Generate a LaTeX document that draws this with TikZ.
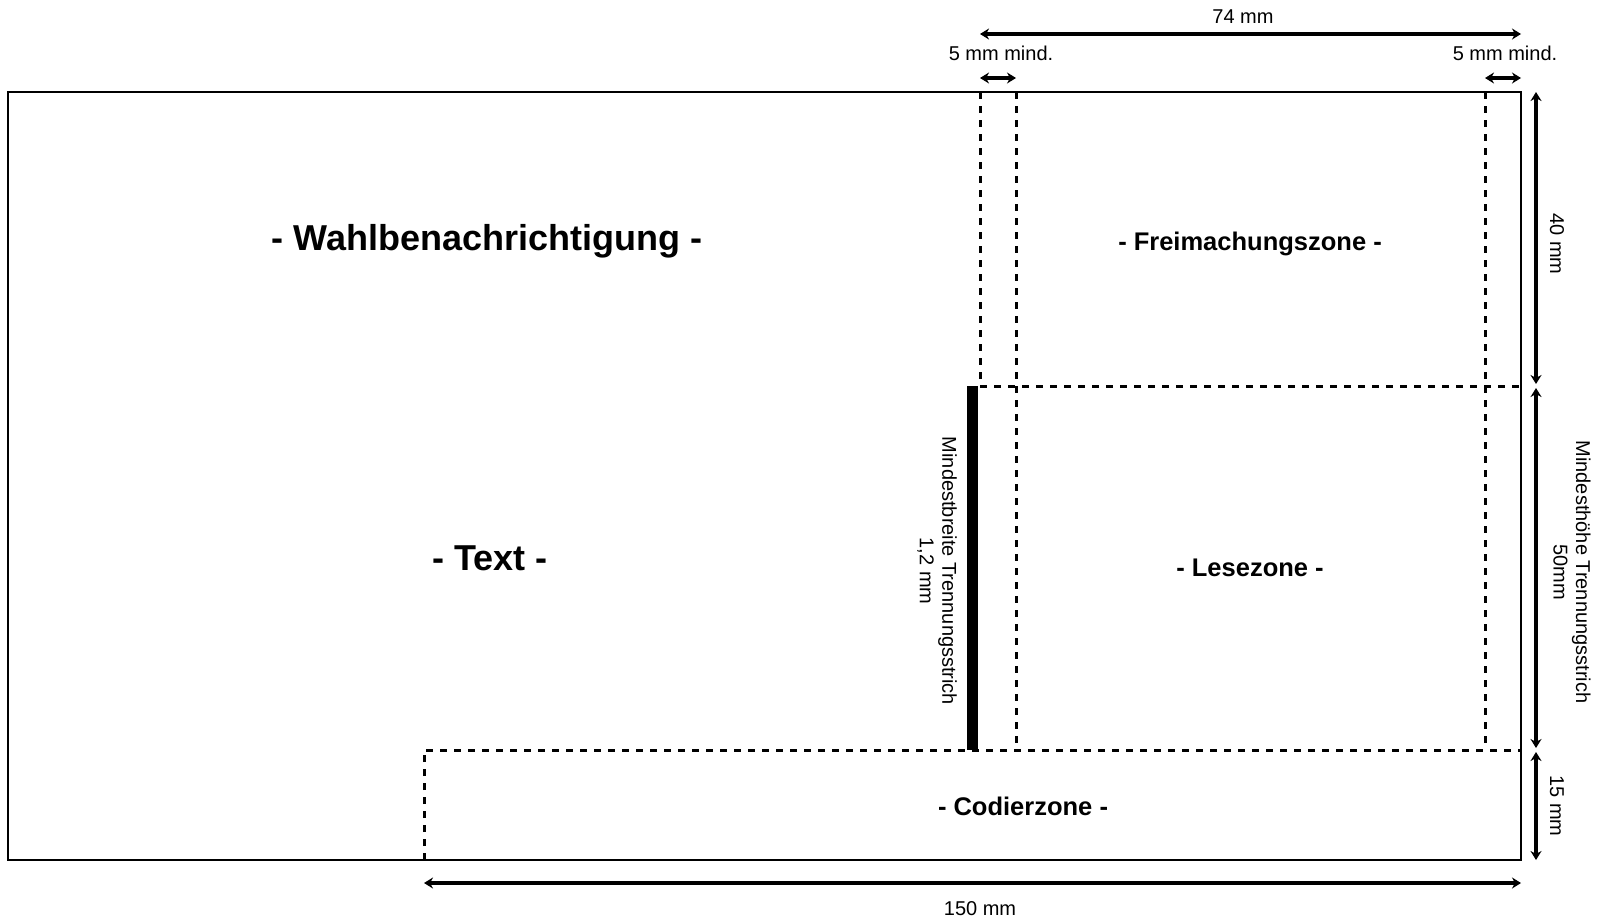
\documentclass[tikz,border=0pt]{standalone}
\usepackage{fontspec}
\setmainfont{Liberation Sans}
\usetikzlibrary{arrows.meta}
\begin{document}
\begin{tikzpicture}[x=1pt,y=-1pt,
  small/.style={font=\fontsize{20}{22.5}\selectfont, inner sep=0pt, align=center},
  big/.style={font=\fontsize{36}{40}\selectfont\bfseries, inner sep=0pt},
  mid/.style={font=\fontsize{25.5}{28}\selectfont\bfseries, inner sep=0pt},
  frame/.style={line width=1.4pt},
  zoneline/.style={line width=3pt, dash pattern=on 7pt off 7pt},
  bar/.style={fill=black, draw=none},
  dimarrow/.style={line width=4.6pt, {Stealth[length=9pt,width=11pt]}-{Stealth[length=9pt,width=11pt]}},
]
\useasboundingbox (0,0) rectangle (1600,919);
% key coordinates
\coordinate (tl) at (8,92);
\coordinate (br) at (1521,860);
\coordinate (v1t) at (980,92);
\coordinate (v1b) at (980,386);
\coordinate (v2t) at (1016,92);
\coordinate (v2b) at (1016,750);
\coordinate (v3t) at (1485,92);
\coordinate (v3b) at (1485,750);
\coordinate (h1r) at (1521,386);
\coordinate (h2l) at (424,750);
\coordinate (h2r) at (1521,750);
\coordinate (cbl) at (424,860);
\coordinate (bar1) at (967,386);
\coordinate (bar2) at (978,750);
% dimension end points
\coordinate (d74l) at (980,34);
\coordinate (d74r) at (1521,34);
\coordinate (d5al) at (980,78);
\coordinate (d5ar) at (1016,78);
\coordinate (d5bl) at (1485,78);
\coordinate (d5br) at (1521,78);
\coordinate (r1t) at (1536,92);
\coordinate (r1b) at (1536,384);
\coordinate (r2t) at (1536,388);
\coordinate (r2b) at (1536,748);
\coordinate (r3t) at (1536,752);
\coordinate (r3b) at (1536,860);
\coordinate (b1l) at (424,883);
\coordinate (b1r) at (1521,883);

% outer frame
\draw[frame] (tl) rectangle (br);
% zone lines
\draw[zoneline] (v1t) -- (v1b);
\draw[zoneline] (v2t) -- (v2b);
\draw[zoneline] (v3t) -- (v3b);
\draw[zoneline] (v1b) -- (h1r);
\draw[zoneline] (cbl) -- (h2l) -- (h2r);
% separator bar
\fill[bar] (bar1) rectangle (bar2);

% dimension arrows
\draw[dimarrow] (d74l) -- (d74r);
\draw[dimarrow] (d5al) -- (d5ar);
\draw[dimarrow] (d5bl) -- (d5br);
\draw[dimarrow] (r1t) -- (r1b);
\draw[dimarrow] (r2t) -- (r2b);
\draw[dimarrow] (r3t) -- (r3b);
\draw[dimarrow] (b1l) -- (b1r);

% labels
\node[small] (l74) at (1243,17) {74 mm};
\node[small] (l5a) at (1001,53) {5 mm mind.};
\node[small] (l5b) at (1505,53) {5 mm mind.};
\node[small, rotate=-90] (l40) at (1557,244) {40 mm};
\node[small, rotate=-90] (l50) at (1572,572) {Mindesthöhe Trennungsstrich\\50mm};
\node[small, rotate=-90] (l15) at (1557,806) {15 mm};
\node[small, rotate=-90] (lbar) at (937,571) {Mindestbreite Trennungsstrich\\1,2 mm};
\node[small] (l150) at (980,909) {150 mm};

\node[big] (wahl) at (487,241) {- Wahlbenachrichtigung -};
\node[big] (text) at (490,558) {- Text -};
\node[mid] (frei) at (1250,244) {- Freimachungszone -};
\node[mid] (lese) at (1250,568) {- Lesezone -};
\node[mid] (codier) at (1023,806) {- Codierzone -};
\end{tikzpicture}
\end{document}
